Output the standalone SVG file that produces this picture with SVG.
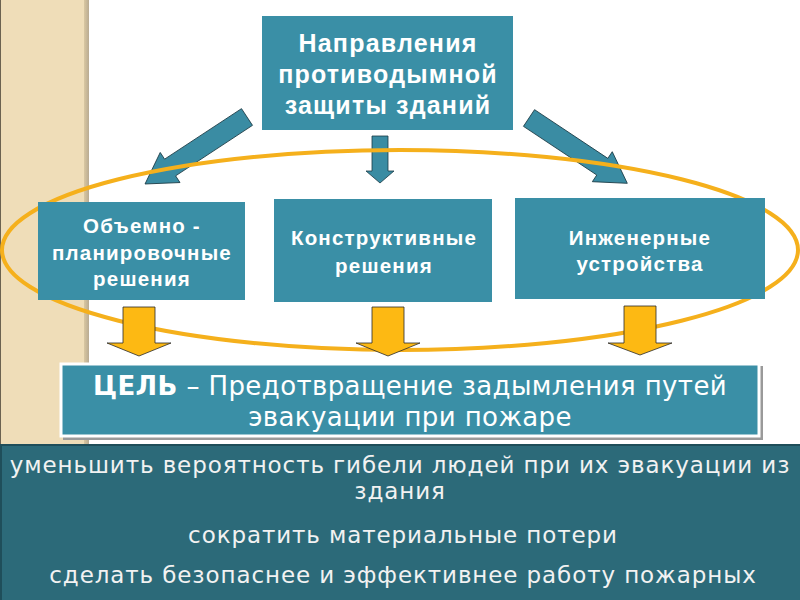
<svg xmlns="http://www.w3.org/2000/svg" width="800" height="600" viewBox="0 0 800 600">
<defs>
<linearGradient id="edge" x1="0" y1="0" x2="1" y2="0">
<stop offset="0" stop-color="#d9c7a1"/>
<stop offset="1" stop-color="#b9ab92"/>
</linearGradient>
<style>
.box{fill:#3A8FA6;}
.bt{font-family:"Liberation Sans",Arial,sans-serif;font-weight:bold;fill:#ffffff;text-anchor:middle;letter-spacing:1.2px;}
.dj{font-family:"DejaVu Sans",sans-serif;text-anchor:middle;}
.res{font-size:23px;letter-spacing:0.9px;fill:#F2F2F2;}
.ta{fill:#3A8CA3;stroke:#1b3b45;stroke-width:0.8;}
.ya{fill:#FDB913;stroke:#2a2a2a;stroke-width:0.8;}
</style>
</defs>
<rect x="0" y="0" width="800" height="600" fill="#ffffff"/>
<g id="background">
<rect x="0" y="0" width="88" height="444" fill="#EFDDB8"/>
<rect x="84" y="0" width="5" height="444" fill="url(#edge)"/>
<line x1="0.5" y1="0" x2="0.5" y2="444" stroke="#6b6250" stroke-width="1"/>
</g>
<g id="connectors">
<polygon class="ta" transform="translate(247,117) rotate(146.7)" points="0,-10 92,-10 92,-18 122,0 92,18 92,10 0,10"/>
<polygon class="ta" transform="translate(529,118) rotate(33.6)" points="0,-10 88,-10 88,-18 118,0 88,18 88,10 0,10"/>
<polygon class="ta" points="372,136 388,136 388,171 394,171 380,183 366,171 372,171"/>
<ellipse cx="400" cy="250" rx="398" ry="100" fill="none" stroke="#F5B01C" stroke-width="4"/>
<polygon class="ya" points="123,307 155,307 155,343 171,343 139,356 107,343 123,343"/>
<polygon class="ya" points="372,307 404,307 404,343 420,343 388,356 356,343 372,343"/>
<polygon class="ya" points="624,306 656,306 656,343 672,343 640,355 608,343 624,343"/>
</g>
<g id="node-top">
<rect class="box" x="262" y="16" width="251" height="114"/>
<text class="bt" font-size="25" x="388" y="52">Направления</text>
<text class="bt" font-size="25" x="388" y="83">противодымной</text>
<text class="bt" font-size="25" x="388" y="114">защиты зданий</text>
</g>
<g id="node-planning">
<rect class="box" x="38" y="202" width="207" height="98"/>
<text class="bt" font-size="20.5" x="142" y="233">Объемно -</text>
<text class="bt" font-size="20.5" x="142" y="260">планировочные</text>
<text class="bt" font-size="20.5" x="142" y="286">решения</text>
</g>
<g id="node-construct">
<rect class="box" x="274" y="199" width="218" height="103"/>
<text class="bt" font-size="20.5" x="384" y="245">Конструктивные</text>
<text class="bt" font-size="20.5" x="384" y="273">решения</text>
</g>
<g id="node-engineer">
<rect class="box" x="515" y="198" width="250" height="101"/>
<text class="bt" font-size="20.5" x="640" y="245">Инженерные</text>
<text class="bt" font-size="20.5" x="640" y="271">устройства</text>
</g>
<g id="node-goal">
<rect x="63" y="366" width="700" height="74" fill="#9a9a9a"/>
<rect x="61" y="364" width="698" height="72" fill="#3A8FA6" stroke="#ffffff" stroke-width="3"/>
<text class="dj" font-size="26" letter-spacing="0.4" x="410" y="395" fill="#ffffff"><tspan font-weight="bold">ЦЕЛЬ</tspan> – Предотвращение задымления путей</text>
<text class="dj" font-size="26" letter-spacing="0.4" x="410" y="426" fill="#ffffff">эвакуации при пожаре</text>
</g>
<g id="node-results">
<rect x="0" y="444" width="800" height="156" fill="#2C6A79"/>
<line x1="0" y1="445" x2="800" y2="445" stroke="#1f4e5a" stroke-width="2"/>
<line x1="1" y1="444" x2="1" y2="600" stroke="#1f4e5a" stroke-width="2"/>
<text class="dj res" x="400" y="473">уменьшить вероятность гибели людей при их эвакуации из</text>
<text class="dj res" x="400" y="499">здания</text>
<text class="dj res" x="403" y="543">сократить материальные потери</text>
<text class="dj res" x="403" y="583">сделать безопаснее и эффективнее работу пожарных</text>
</g>
</svg>
